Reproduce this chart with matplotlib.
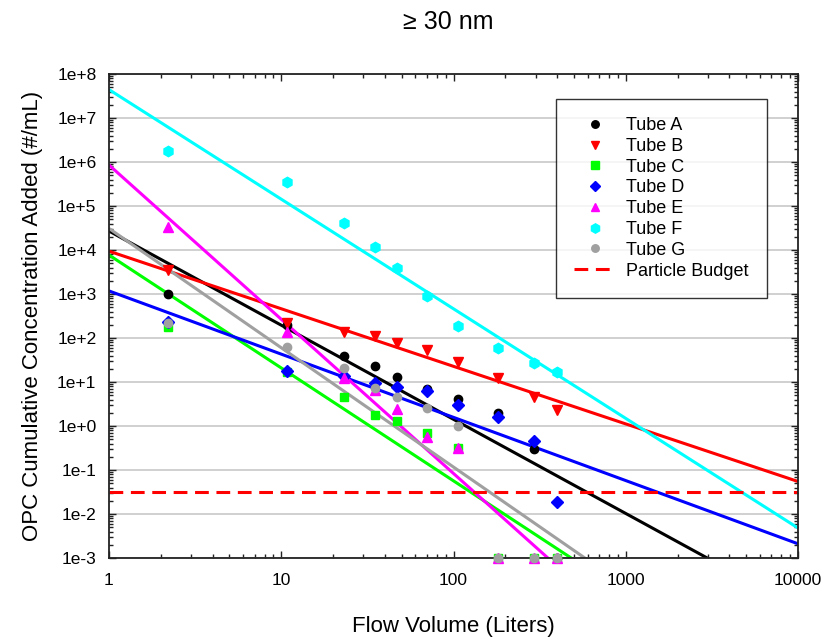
import numpy as np
import matplotlib
matplotlib.use("Agg")
import matplotlib.pyplot as plt
from matplotlib.ticker import LogLocator, FuncFormatter, NullFormatter, FixedLocator
from matplotlib.lines import Line2D

plt.rcParams['font.family'] = ['Liberation Sans', 'DejaVu Sans']

# Cumulative flow volume (liters) at each sampling point
volume = [2.2, 10.8, 23, 35, 47, 70, 106, 181, 293, 399]

# Cumulative concentration added (#/mL), particles >= 30 nm
tube_a = [1000, 200, 40, 23, 13, 7.0, 4.1, 2.0, 0.30, 0.001]
tube_b = [3600, 225, 135, 113, 79, 52, 29, 12.5, 4.6, 2.3]
tube_c = [180, 17, 4.6, 1.8, 1.3, 0.69, 0.31, 0.001, 0.001, 0.001]
tube_d = [230, 18, 14, 9.6, 7.8, 6.3, 3.0, 1.6, 0.46, 0.019]
tube_e = [33000, 140, 12.5, 6.6, 2.4, 0.56, 0.31, 0.001, 0.001, 0.001]
tube_f = [1.8e6, 3.55e5, 41000, 11600, 3800, 890, 190, 60, 27.5, 17]
tube_g = [214, 63, 21, 7.4, 4.6, 2.6, 1.0, 0.001, 0.001, 0.001]

particle_budget = 0.032

labels = ["Tube A", "Tube B", "Tube C", "Tube D", "Tube E", "Tube F", "Tube G"]
series = [tube_a, tube_b, tube_c, tube_d, tube_e, tube_f, tube_g]
colors = ["#000000", "#ff0000", "#00ff00", "#0000ff", "#ff00ff", "#00ffff", "#a0a0a0"]
markers = ["o", "v", "s", "D", "^", "h", "o"]
msizes = [6, 7, 6, 6, 7, 7.5, 6]

fig = plt.figure(figsize=(8.27, 6.40), dpi=100)
ax = fig.add_axes([109 / 827, 1 - 558 / 640, (798 - 109) / 827, (558 - 74) / 640])
ax.set_xscale("log")
ax.set_yscale("log")
ax.set_xlim(1, 1e4)
ax.set_ylim(1e-3, 1e8)

# Power-law regression lines (least squares in log-log space)
x_fit = np.logspace(0, 4, 200)
lx = np.log10(volume)
for vals, c in zip(series, colors):
    slope, icpt = np.polyfit(lx, np.log10(vals), 1)
    ax.plot(x_fit, 10 ** (icpt + slope * np.log10(x_fit)), color=c, lw=2.2,
            zorder=2, solid_capstyle="butt")

# Measured points
for vals, c, m, s in zip(series, colors, markers, msizes):
    ax.plot(volume, vals, linestyle="none", marker=m, ms=s, color=c,
            markeredgecolor=c, zorder=3, clip_on=False)

ax.axhline(particle_budget, color="#ff0000", lw=2.2, dashes=(4.5, 2.5), zorder=2)

# Horizontal grid at each decade
ax.yaxis.grid(True, which="major", color="#c8c8c8", lw=1.2, zorder=0)
ax.set_axisbelow(True)

ax.yaxis.set_major_locator(FixedLocator([10.0 ** e for e in range(-3, 9)]))
ax.yaxis.set_minor_locator(LogLocator(base=10, subs=np.arange(2, 10), numticks=20))
ax.yaxis.set_major_formatter(FuncFormatter(lambda v, p: "1e{:+d}".format(int(round(np.log10(v))))))
ax.yaxis.set_minor_formatter(NullFormatter())
ax.xaxis.set_major_locator(FixedLocator([1, 10, 100, 1000, 10000]))
ax.xaxis.set_minor_locator(LogLocator(base=10, subs=np.arange(2, 10), numticks=20))
ax.xaxis.set_major_formatter(FuncFormatter(lambda v, p: "{:d}".format(int(round(v)))))
ax.xaxis.set_minor_formatter(NullFormatter())

ax.tick_params(which="both", direction="in", top=True, right=True, width=1.0, color="#222222")
ax.tick_params(which="major", length=5)
ax.tick_params(which="minor", length=3)
ax.tick_params(axis="y", which="major", labelsize=12.5, pad=9)
ax.tick_params(axis="x", which="major", labelsize=12.5, pad=11)
for sp in ax.spines.values():
    sp.set_linewidth(1.3)
    sp.set_color("#222222")

ax.set_xlabel("Flow Volume (Liters)", fontsize=16, labelpad=20)
ax.set_ylabel("OPC Cumulative Concentration Added (#/mL)", fontsize=16, labelpad=10)
fig.text(448 / 827, 1 - 22 / 640, "\u2265 30 nm", ha="center", va="center", fontsize=18)

handles = [Line2D([], [], linestyle="none", marker=m, ms=s * 0.9, color=c, markeredgecolor=c)
           for c, m, s in zip(colors, markers, msizes)]
handles.append(Line2D([], [], color="#ff0000", lw=2.2, dashes=(4.5, 2.5)))
leg = ax.legend(handles, labels + ["Particle Budget"], loc="upper left",
                bbox_to_anchor=(556 / 827, 1 - 99 / 640), bbox_transform=fig.transFigure,
                borderaxespad=0, fontsize=13, frameon=True, fancybox=False,
                handlelength=2.3, handletextpad=0.6, labelspacing=0.21, borderpad=1.0)
leg.get_frame().set_edgecolor("#000000")
leg.get_frame().set_linewidth(1.0)
leg.set_zorder(5)

fig.savefig("out.png", dpi=100)
